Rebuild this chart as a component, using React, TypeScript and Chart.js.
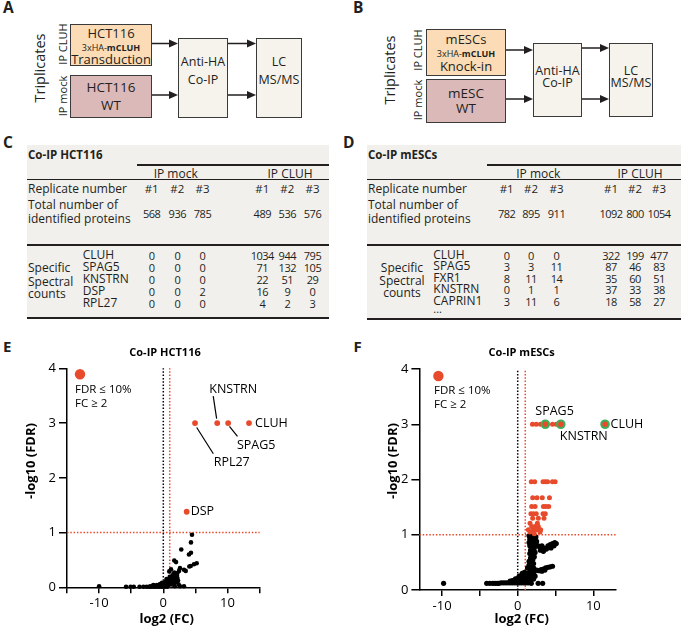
import React, { useEffect, useRef } from 'react';
import { Chart, registerables } from 'chart.js';
Chart.register(...registerables);

const FONT = "'Open Sans', 'Noto Sans', sans-serif";
const INK = '#231f20';
const RED = '#e84a2c';
const GREEN = '#3fae5a';
const ORANGE_BOX = '#fcdcb6';
const PINK_BOX = '#dcb9b9';
const BEIGE_BOX = '#f6f3ec';
const TABLE_BG = '#f2f0ed';

Chart.defaults.font.family = FONT;

// ---------- Panel C / D table data ----------
const hctTotals = [568, 936, 785, 489, 536, 576];
const hctGenes = ['CLUH', 'SPAG5', 'KNSTRN', 'DSP', 'RPL27'];
const hctCounts = [
  [0, 0, 0, 1034, 944, 795],
  [0, 0, 0, 71, 132, 105],
  [0, 0, 0, 22, 51, 29],
  [0, 0, 2, 16, 9, 0],
  [0, 0, 0, 4, 2, 3],
];
const mescTotals = [782, 895, 911, 1092, 800, 1054];
const mescGenes = ['CLUH', 'SPAG5', 'FXR1', 'KNSTRN', 'CAPRIN1'];
const mescCounts = [
  [0, 0, 0, 322, 199, 477],
  [3, 3, 11, 87, 46, 83],
  [8, 11, 14, 35, 60, 51],
  [0, 1, 1, 37, 33, 38],
  [3, 11, 6, 18, 58, 27],
];
const replicateLabels = ['#1', '#2', '#3', '#1', '#2', '#3'];

// ---------- Panel E data (HCT116) ----------
const hctHits = [
  { gene: 'RPL27', x: 4.94, y: 3 },
  { gene: 'KNSTRN', x: 8.4, y: 3 },
  { gene: 'SPAG5', x: 10.1, y: 3 },
  { gene: 'CLUH', x: 13.35, y: 3 },
  { gene: 'DSP', x: 3.64, y: 1.38 },
];
const hctOther = [
  [4.47, 0.96], [4.31, 0.82], [2.8, 0.69], [4.31, 0.63], [4.0, 0.6], [1.71, 0.49], [1.98, 0.46],
  [5.2, 0.44], [4.78, 0.42], [4.27, 0.39], [4.05, 0.38], [2.6, 0.35], [3.22, 0.32], [3.49, 0.3],
  [2.45, 0.3], [1.2, 0.33], [0.93, 0.29], [1.56, 0.24], [1.98, 0.21],
  [0.78, 0.13], [1.3, 0.16], [1.56, 0.19], [0.26, 0.08], [-0.51, 0.06], [-1.56, 0.04],
  [1.78, 0.02], [2.6, 0.02], [3.22, 0.02],
  [-10.0, 0.02], [-5.8, 0.01], [-5.1, 0.01], [-4.6, 0.01], [-3.7, 0.01], [-3.1, 0.01], [-2.6, 0.01],
  [-2.2, 0.01], [-1.8, 0.01], [-1.4, 0.01], [-1.0, 0.01], [-0.6, 0.01], [-0.2, 0.01], [0.2, 0.01], [0.6, 0.01],
  [-2.0, 0.02], [-1.5, 0.03], [-1.0, 0.04], [-0.5, 0.04], [0, 0.05], [0.5, 0.06], [1.0, 0.08], [1.5, 0.1],
  [1.9, 0.13], [2.2, 0.17], [-0.2, 0.08], [0.3, 0.1], [0.7, 0.11], [1.1, 0.12], [1.6, 0.14], [2.0, 0.16],
  [2.1, 0.22], [1.8, 0.18], [0.5, 0.15], [1.0, 0.19], [1.4, 0.21], [1.7, 0.27], [2.2, 0.26], [0.2, 0.03],
  [0.8, 0.04], [1.3, 0.05], [1.7, 0.07], [2.1, 0.1], [2.3, 0.12], [2.4, 0.05],
];

// ---------- Panel F data (mESCs) ----------
const mescLabeled = [
  { gene: 'SPAG5', x: 3.65, y: 3 },
  { gene: 'KNSTRN', x: 5.7, y: 3 },
  { gene: 'CLUH', x: 11.55, y: 3 },
];
const mescHits = [
  [1.95, 3], [2.45, 3], [3.0, 3], [4.6, 3], [5.1, 3],
  [1.8, 1.96], [2.25, 1.96], [3.35, 1.96], [3.65, 1.96], [3.95, 1.96], [4.6, 1.96], [4.95, 1.96],
  [1.98, 1.67], [2.55, 1.67], [3.25, 1.67], [4.2, 1.67],
  [1.85, 1.51], [2.3, 1.51], [3.4, 1.51], [3.72, 1.51], [4.1, 1.51],
  [1.75, 1.38], [2.07, 1.38], [2.45, 1.38], [3.35, 1.38], [3.65, 1.38],
  [1.98, 1.3], [2.73, 1.3], [3.48, 1.3],
  [1.63, 1.21], [2.6, 1.21],
  [1.85, 1.15], [2.29, 1.15], [2.73, 1.15],
  [1.41, 1.09], [2.07, 1.09], [2.51, 1.09], [3.04, 1.09],
  [1.63, 1.05], [2.95, 1.05], [2.2, 1.02],
];
const mescOther = [
  [1.5, 0.98], [1.8, 1.0], [2.1, 0.98], [2.4, 0.96], [1.6, 0.92], [1.9, 0.93], [2.2, 0.9], [2.5, 0.88],
  [1.5, 0.86], [1.8, 0.86], [2.1, 0.84], [2.4, 0.82], [2.7, 0.8], [1.6, 0.8], [1.9, 0.78], [2.2, 0.76],
  [1.7, 0.72], [2.0, 0.7], [2.3, 0.68], [1.6, 0.66], [1.9, 0.63], [2.2, 0.6], [1.7, 0.58], [2.0, 0.55],
  [1.5, 0.52], [1.8, 0.5], [2.1, 0.48], [1.5, 0.45], [1.8, 0.42], [2.1, 0.4], [1.3, 0.4], [1.6, 0.37],
  [1.9, 0.35], [2.2, 0.34],
  [2.9, 0.78], [3.2, 0.8], [3.5, 0.76], [3.8, 0.74], [4.0, 0.8], [4.3, 0.82], [4.6, 0.84], [4.9, 0.86],
  [5.1, 0.84], [3.4, 0.7], [3.0, 0.72], [4.4, 0.76], [4.8, 0.8],
  [2.5, 0.36], [2.8, 0.35], [3.1, 0.37], [3.4, 0.38], [3.7, 0.4], [4.0, 0.41], [4.3, 0.42], [4.6, 0.43],
  [3.2, 0.34], [3.6, 0.36],
  [0.6, 0.3], [0.9, 0.32], [1.2, 0.3], [1.5, 0.3], [1.8, 0.3], [2.1, 0.3],
  [0.2, 0.25], [0.5, 0.26], [0.8, 0.26], [1.1, 0.25], [1.4, 0.25], [1.7, 0.25], [2.0, 0.24], [2.3, 0.25],
  [-0.3, 0.2], [0.0, 0.21], [0.3, 0.2], [0.6, 0.21], [0.9, 0.2], [1.2, 0.2], [1.5, 0.2], [1.8, 0.19], [2.1, 0.2],
  [-1.0, 0.16], [-0.7, 0.17], [-0.4, 0.16], [-0.1, 0.16], [0.2, 0.16], [0.5, 0.16], [0.8, 0.16], [1.1, 0.15],
  [1.4, 0.16], [1.7, 0.16],
  [-2.2, 0.13], [-1.9, 0.13], [-1.6, 0.13], [-1.3, 0.13], [-1.0, 0.13], [-0.7, 0.13], [-0.4, 0.13],
  [-0.1, 0.13], [0.2, 0.13], [0.5, 0.13], [0.8, 0.13], [1.1, 0.13], [1.4, 0.13],
  [-4.1, 0.12], [-3.7, 0.12], [-3.3, 0.12], [-3.0, 0.12], [-2.7, 0.12], [-2.5, 0.12], [-9.8, 0.12],
  [1.8, 0.12], [2.7, 0.12], [3.3, 0.12],
];

const hctXTicks = [-15, -10, -5, 0, 5, 10, 15];
const mescXTicks = [-10, -5, 0, 5, 10];
const yTicks = [0, 1, 2, 3, 4];
const labeledXTicks = [-10, 0, 10];

// ---------- helpers ----------
type TP = { x: number; y: number; size?: number; bold?: boolean; align?: 'left' | 'center' | 'right'; rot?: boolean; ls?: number; children?: any };
function T({ x, y, size = 11, bold = false, align = 'left', rot = false, ls = 0, children }: TP) {
  const tx = align === 'left' ? '0' : align === 'center' ? '-50%' : '-100%';
  return (
    <div
      style={{
        position: 'absolute', left: x, top: y, fontSize: size, fontWeight: bold ? 700 : 400,
        lineHeight: 1, whiteSpace: 'nowrap', color: INK, letterSpacing: ls,
        transform: `translate(${rot ? '-50%' : tx},-50%)${rot ? ' rotate(-90deg)' : ''}`,
      }}
    >
      {children}
    </div>
  );
}

function Box({ x, y, w, h, bg }: { x: number; y: number; w: number; h: number; bg: string }) {
  return (
    <div style={{ position: 'absolute', left: x, top: y, width: w, height: h, background: bg, border: '1.5px solid #3a3a3a', boxSizing: 'border-box' }} />
  );
}

function HLine({ x1, x2, y, t }: { x1: number; x2: number; y: number; t: number }) {
  return <div style={{ position: 'absolute', left: x1, top: y - t / 2, width: x2 - x1, height: t, background: INK }} />;
}

function Arrow({ x1, x2, y }: { x1: number; x2: number; y: number }) {
  return (
    <g>
      <line x1={x1} y1={y} x2={x2 - 6} y2={y} stroke={INK} strokeWidth={1.5} />
      <polygon points={`${x2},${y} ${x2 - 9},${y - 4} ${x2 - 9},${y + 4}`} fill={INK} />
    </g>
  );
}

type DiagramSpec = {
  ox: number;
  trip: [number, number]; ipc: [number, number]; ipm: [number, number];
  top: { x: number; y: number; w: number; h: number; lines: [string, number][] };
  bot: { x: number; y: number; w: number; h: number; lines: [string, number][] };
  co: { x: number; y: number; w: number; h: number; ty: [number, number] };
  lc: { x: number; y: number; w: number; h: number; ty: [number, number] };
  ay1: number; ay2: number; by1: number; by2: number;
};

function Diagram({ s }: { s: DiagramSpec }) {
  const cx = (b: { x: number; w: number }) => b.x + b.w / 2;
  return (
    <>
      <T x={s.trip[0]} y={s.trip[1]} size={14.5} rot>Triplicates</T>
      <T x={s.ipc[0]} y={s.ipc[1]} size={11} rot>IP CLUH</T>
      <T x={s.ipm[0]} y={s.ipm[1]} size={11} rot>IP mock</T>
      <Box x={s.top.x} y={s.top.y} w={s.top.w} h={s.top.h} bg={ORANGE_BOX} />
      <Box x={s.bot.x} y={s.bot.y} w={s.bot.w} h={s.bot.h} bg={PINK_BOX} />
      <Box x={s.co.x} y={s.co.y} w={s.co.w} h={s.co.h} bg={BEIGE_BOX} />
      <Box x={s.lc.x} y={s.lc.y} w={s.lc.w} h={s.lc.h} bg={BEIGE_BOX} />
      {s.top.lines.map(([t, y], i) =>
        t === 'HA' ? (
          <T key={i} x={cx(s.top)} y={y} size={9} align="center">3xHA-<b>mCLUH</b></T>
        ) : (
          <T key={i} x={cx(s.top)} y={y} size={13} align="center">{t}</T>
        ))}
      {s.bot.lines.map(([t, y], i) => (
        <T key={i} x={cx(s.bot)} y={y} size={13.5} align="center">{t}</T>
      ))}
      <T x={cx(s.co)} y={s.co.ty[0]} size={12.5} align="center">Anti-HA</T>
      <T x={cx(s.co)} y={s.co.ty[1]} size={12.5} align="center">Co-IP</T>
      <T x={cx(s.lc)} y={s.lc.ty[0]} size={12.5} align="center">LC</T>
      <T x={cx(s.lc)} y={s.lc.ty[1]} size={12.5} align="center">MS/MS</T>
      <svg style={{ position: 'absolute', left: 0, top: 0 }} width={685} height={140}>
        <Arrow x1={s.top.x + s.top.w} x2={s.co.x} y={s.ay1} />
        <Arrow x1={s.bot.x + s.bot.w} x2={s.co.x} y={s.ay2} />
        <Arrow x1={s.co.x + s.co.w} x2={s.lc.x} y={s.by1} />
        <Arrow x1={s.co.x + s.co.w} x2={s.lc.x} y={s.by2} />
      </svg>
    </>
  );
}

const diagA: DiagramSpec = {
  ox: 0, trip: [40, 68], ipc: [62, 44], ipm: [62, 96],
  top: { x: 70, y: 24, w: 82, h: 42, lines: [['HCT116', 32.5], ['HA', 46.5], ['Transduction', 58.5]] },
  bot: { x: 70, y: 75, w: 82, h: 43, lines: [['HCT116', 88], ['WT', 106]] },
  co: { x: 178, y: 38, w: 50, h: 80, ty: [62, 80] },
  lc: { x: 256, y: 38, w: 46, h: 80, ty: [62, 80] },
  ay1: 43.5, ay2: 95, by1: 43.5, by2: 95,
};
const diagB: DiagramSpec = {
  ox: 340, trip: [390, 70], ipc: [417, 50], ipm: [417, 100],
  top: { x: 426, y: 29, w: 80, h: 47, lines: [['mESCs', 38.5], ['HA', 53], ['Knock-in', 66]] },
  bot: { x: 426, y: 79, w: 80, h: 44, lines: [['mESC', 94], ['WT', 109]] },
  co: { x: 533, y: 43, w: 49, h: 74, ty: [71, 83] },
  lc: { x: 609, y: 43, w: 44, h: 74, ty: [71, 83] },
  ay1: 50, ay2: 99, by1: 48, by2: 99,
};

type TableSpec = {
  title: string; bgL: number; bgR: number; tlL: number; labelX: number; geneX: number;
  colX: number[]; mockHX: number; cluhHX: number; totals: number[]; genes: string[]; counts: number[][];
  geneY: number[]; specX: number; specAlign: 'left' | 'center'; specY: number[]; dotsY?: number; bottom: number;
};

const NUM = 11;
const NUM_LS = -0.5;

function Table({ s }: { s: TableSpec }) {
  return (
    <>
      <div style={{ position: 'absolute', left: s.bgL, top: 145, width: s.bgR - s.bgL, height: s.bottom - 145, background: TABLE_BG }} />
      <T x={s.labelX} y={155} size={11.5} bold>{s.title}</T>
      <HLine x1={s.tlL} x2={s.bgR} y={165} t={1.2} />
      <T x={s.mockHX} y={173.5} size={12} align="center">IP mock</T>
      <T x={s.cluhHX} y={173.5} size={12} align="center">IP CLUH</T>
      <HLine x1={s.bgL} x2={s.bgR} y={179.5} t={1} />
      <T x={s.labelX} y={188.5} size={12}>Replicate number</T>
      {replicateLabels.map((r, i) => <T key={'r' + i} x={s.colX[i]} y={188.5} size={11.5} align="center">{r}</T>)}
      <T x={s.labelX} y={205} size={12}>Total number of</T>
      <T x={s.labelX} y={219} size={12}>identified proteins</T>
      {s.totals.map((v, i) => <T key={'t' + i} x={s.colX[i]} y={212.5} size={NUM} ls={NUM_LS} align="center">{v}</T>)}
      <HLine x1={s.bgL} x2={s.bgR} y={245} t={1.6} />
      {['Specific', 'Spectral', 'counts'].map((w, i) => (
        <T key={'s' + i} x={s.specX} y={s.specY[i]} size={12} align={s.specAlign}>{w}</T>
      ))}
      {s.genes.map((g, r) => (
        <React.Fragment key={'g' + r}>
          <T x={s.geneX} y={s.geneY[r]} size={12}>{g}</T>
          {s.counts[r].map((v, i) => <T key={i} x={s.colX[i]} y={s.geneY[r]} size={NUM} ls={NUM_LS} align="center">{v}</T>)}
        </React.Fragment>
      ))}
      {s.dotsY ? <T x={s.geneX} y={s.dotsY} size={11}>...</T> : null}
      <HLine x1={s.bgL} x2={s.bgR} y={s.bottom} t={2} />
    </>
  );
}

const tableC: TableSpec = {
  title: 'Co-IP HCT116', bgL: 26.7, bgR: 329, tlL: 136.7, labelX: 28, geneX: 82.7,
  colX: [151.7, 177.3, 202.5, 262.3, 287.3, 312.5], mockHX: 175.7, cluhHX: 290,
  totals: hctTotals, genes: hctGenes, counts: hctCounts, geneY: [255, 267.2, 279.3, 291.3, 303.3],
  specX: 28, specAlign: 'left', specY: [268.3, 281.7, 294.3], bottom: 318.3,
};
const tableD: TableSpec = {
  title: 'Co-IP mESCs', bgL: 366.7, bgR: 681, tlL: 486.7, labelX: 368, geneX: 433.3,
  colX: [506.7, 531, 556.5, 611, 635, 659], mockHX: 538.3, cluhHX: 640,
  totals: mescTotals, genes: mescGenes, counts: mescCounts, geneY: [255, 266.3, 277.7, 289, 300.7],
  specX: 402, specAlign: 'center', specY: [268, 281, 293], dotsY: 308, bottom: 319,
};

// ---------- volcano charts ----------
type Label = { gene: string; dx: number; dy: number; align: 'left' | 'center'; line?: [number, number, number, number] };
type VolcSpec = {
  left: number; top: number; w: number; h: number;
  yAxisW: number; xAxisH: number; padTop: number; padRight: number;
  xMin: number; xMax: number; xTicks: number[];
  title: string; titlePos: [number, number]; xTitlePos: [number, number]; yTitlePos: [number, number];
  legend: { dot: [number, number]; text: [number, number, number] };
  datasets: any[]; labeled: { gene: string; x: number; y: number }[]; labels: Label[];
};

function makeOverlay(s: VolcSpec) {
  return {
    id: 'volcanoOverlay',
    afterDatasetsDraw(chart: any) {
      const { ctx, chartArea, scales } = chart;
      const xs = scales.x, ys = scales.y;
      ctx.save();
      ctx.fillStyle = '#000';
      ctx.textBaseline = 'middle';
      ctx.textAlign = 'center';
      ctx.font = `bold 11px ${FONT}`;
      ctx.fillText(s.title, s.titlePos[0], s.titlePos[1]);
      ctx.font = `bold 13px ${FONT}`;
      ctx.fillText('log2 (FC)', s.xTitlePos[0], s.xTitlePos[1]);
      ctx.save();
      ctx.translate(s.yTitlePos[0], s.yTitlePos[1]);
      ctx.rotate(-Math.PI / 2);
      ctx.fillText('-log10 (FDR)', 0, 0);
      ctx.restore();
      // legend
      ctx.fillStyle = RED;
      ctx.beginPath();
      ctx.arc(chartArea.left + s.legend.dot[0], chartArea.top + s.legend.dot[1], 5.2, 0, Math.PI * 2);
      ctx.fill();
      ctx.fillStyle = '#000';
      ctx.textAlign = 'left';
      ctx.font = `11.5px ${FONT}`;
      ctx.fillText('FDR \u2264 10%', chartArea.left + s.legend.text[0], chartArea.top + s.legend.text[1]);
      ctx.fillText('FC \u2265 2', chartArea.left + s.legend.text[0], chartArea.top + s.legend.text[2]);
      // gene labels
      ctx.font = `12.5px ${FONT}`;
      ctx.strokeStyle = '#000';
      ctx.lineWidth = 1.2;
      s.labels.forEach((l) => {
        const p = s.labeled.find((d) => d.gene === l.gene);
        if (!p) return;
        const px = xs.getPixelForValue(p.x);
        const py = ys.getPixelForValue(p.y);
        ctx.textAlign = l.align;
        ctx.fillText(l.gene, px + l.dx, py + l.dy);
        if (l.line) {
          ctx.beginPath();
          ctx.moveTo(px + l.line[0], py + l.line[1]);
          ctx.lineTo(px + l.line[2], py + l.line[3]);
          ctx.stroke();
        }
      });
      ctx.restore();
    },
  };
}

function Volcano({ s }: { s: VolcSpec }) {
  const ref = useRef<HTMLCanvasElement>(null);
  useEffect(() => {
    if (!ref.current) return;
    const axisCommon = {
      grid: { drawOnChartArea: false, drawTicks: true, color: '#000', lineWidth: 1.5 },
      border: { display: true, color: '#000', width: 1.5 },
    };
    const chart = new Chart(ref.current, {
      type: 'scatter',
      data: { datasets: s.datasets },
      options: {
        responsive: false,
        animation: false,
        events: [],
        layout: { padding: { top: s.padTop, right: s.padRight, left: 0, bottom: 0 } },
        plugins: { legend: { display: false }, tooltip: { enabled: false } },
        scales: {
          x: {
            type: 'linear', min: s.xMin, max: s.xMax,
            afterFit: (sc: any) => { sc.height = s.xAxisH; },
            afterBuildTicks: (sc: any) => { sc.ticks = s.xTicks.map((v) => ({ value: v })); },
            ticks: {
              autoSkip: false, maxRotation: 0, color: '#000', font: { size: 13 }, padding: 2,
              callback: (v: any) => (labeledXTicks.includes(Number(v)) ? String(v) : ''),
            },
            ...axisCommon,
            grid: { ...axisCommon.grid, tickLength: 6 },
          },
          y: {
            type: 'linear', min: 0, max: 4,
            afterFit: (sc: any) => { sc.width = s.yAxisW; },
            afterBuildTicks: (sc: any) => { sc.ticks = yTicks.map((v) => ({ value: v })); },
            ticks: { color: '#000', font: { size: 13 }, padding: 3, callback: (v: any) => String(v) },
            ...axisCommon,
            grid: { ...axisCommon.grid, tickLength: 8 },
          },
        },
      } as any,
      plugins: [makeOverlay(s)],
    });
    return () => chart.destroy();
  }, []);
  return (
    <canvas ref={ref} width={s.w} height={s.h}
      style={{ position: 'absolute', left: s.left, top: s.top, width: s.w, height: s.h }} />
  );
}

const toXY = (arr: number[][]) => arr.map(([x, y]) => ({ x, y }));
const dotted = (data: any[], color: string) => ({
  data, showLine: true, borderColor: color, borderWidth: 1.5, borderDash: [1.5, 1.8],
  pointRadius: 0, fill: false, order: 5, clip: false,
});

const specE: VolcSpec = {
  left: 0, top: 330, w: 340, h: 297, yAxisW: 67, xAxisH: 39.7, padTop: 38.3, padRight: 80.4,
  xMin: -15, xMax: 15, xTicks: hctXTicks,
  title: 'Co-IP HCT116', titlePos: [165, 23.3], xTitlePos: [166.7, 289.5], yTitlePos: [31.7, 131],
  legend: { dot: [13, 6], text: [8, 21.7, 35.7] },
  labeled: hctHits,
  labels: [
    { gene: 'RPL27', dx: 36.7, dy: 39.4, align: 'center', line: [1.7, 4.4, 18.3, 30.7] },
    { gene: 'KNSTRN', dx: 16, dy: -34, align: 'center', line: [-4, -27, -0.6, -4.5] },
    { gene: 'SPAG5', dx: 28, dy: 22.7, align: 'center', line: [1.3, 3.4, 9.3, 13.4] },
    { gene: 'CLUH', dx: 6, dy: 0, align: 'left' },
    { gene: 'DSP', dx: 4, dy: 0, align: 'left' },
  ],
  datasets: [
    { data: hctHits.map((d) => ({ x: d.x, y: d.y })), pointRadius: 2.9, backgroundColor: RED, borderWidth: 0, order: 0, clip: false },
    { data: toXY(hctOther), pointRadius: 2.3, backgroundColor: '#000', borderWidth: 0, order: 1, clip: false },
    dotted([{ x: 0, y: 0 }, { x: 0, y: 4 }], '#000'),
    dotted([{ x: 1, y: 0 }, { x: 1, y: 4 }], RED),
    dotted([{ x: -15, y: 1 }, { x: 15, y: 1 }], RED),
  ],
};

const specF: VolcSpec = {
  left: 340, top: 330, w: 345, h: 297, yAxisW: 79.4, xAxisH: 37, padTop: 39, padRight: 69,
  xMin: -13, xMax: 13, xTicks: mescXTicks,
  title: 'Co-IP mESCs', titlePos: [181.7, 23], xTitlePos: [181.7, 289], yTitlePos: [53.3, 131],
  legend: { dot: [19, 7], text: [14.6, 22, 36] },
  labeled: mescLabeled,
  labels: [
    { gene: 'SPAG5', dx: 9.3, dy: -13.3, align: 'center' },
    { gene: 'KNSTRN', dx: 23, dy: 12.4, align: 'center' },
    { gene: 'CLUH', dx: 5.5, dy: 0, align: 'left' },
  ],
  datasets: [
    { data: mescLabeled.map((d) => ({ x: d.x, y: d.y })), pointRadius: 3.8, backgroundColor: RED, borderColor: GREEN, borderWidth: 2, order: 0, clip: false },
    { data: toXY(mescHits), pointRadius: 2.5, backgroundColor: RED, borderWidth: 0, order: 1, clip: false },
    { data: toXY(mescOther), pointRadius: 2.6, backgroundColor: '#000', borderWidth: 0, order: 2, clip: false },
    dotted([{ x: 0, y: 0 }, { x: 0, y: 4 }], '#000'),
    dotted([{ x: 1, y: 0 }, { x: 1, y: 4 }], RED),
    dotted([{ x: -13, y: 1 }, { x: 13, y: 1 }], RED),
  ],
};

export default function App() {
  return (
    <div style={{ position: 'absolute', left: 0, top: 0, width: 685, height: 627, background: '#fff', fontFamily: FONT, overflow: 'hidden' }}>
      <T x={3} y={7.5} size={15.5} bold>A</T>
      <T x={353} y={7.5} size={15.5} bold>B</T>
      <T x={3} y={142.5} size={15.5} bold>C</T>
      <T x={343} y={142.5} size={15.5} bold>D</T>
      <T x={3} y={345.5} size={15} bold>E</T>
      <T x={353.5} y={345.5} size={15} bold>F</T>
      <Diagram s={diagA} />
      <Diagram s={diagB} />
      <Table s={tableC} />
      <Table s={tableD} />
      <Volcano s={specE} />
      <Volcano s={specF} />
    </div>
  );
}
